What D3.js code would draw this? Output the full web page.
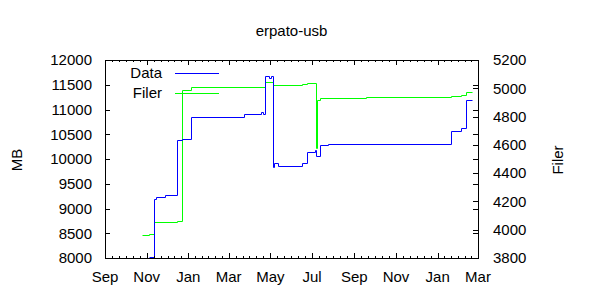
<!DOCTYPE html>
<html>
<head>
<meta charset="utf-8">
<script src="https://cdn.jsdelivr.net/npm/d3@7"></script>
<style>
body { margin: 0; background: #fff; }
text { font-family: "Liberation Sans", Arial, sans-serif; font-size: 15px; fill: #000; }
</style>
</head>
<body>
<svg id="chart" width="600" height="300"></svg>
<script>
// values
var dataDates = ["2008-11-05","2008-11-11","2008-11-14","2008-11-28","2008-12-16","2008-12-22","2009-01-05","2009-03-23","2009-04-17","2009-04-20","2009-04-23","2009-04-29","2009-05-02","2009-05-05","2009-05-07","2009-05-12","2009-06-16","2009-06-23","2009-07-06","2009-07-07","2009-07-13","2009-07-24","2010-01-21","2010-02-04","2010-02-12","2010-02-20"];
var dataMB = [8026,9186,9226,9266,10384,10404,10842,10909,10943,10909,11676,11630,11676,9844,9913,9858,9913,10141,10182,10060,10276,10303,10565,10620,11192,11192];
var filerDates = ["2008-10-25","2008-11-05","2008-11-11","2008-12-16","2008-12-22","2009-01-05","2009-04-23","2009-05-05","2009-06-16","2009-06-23","2009-07-07T00:00Z","2009-07-07T18:00Z","2009-07-13","2009-09-18","2010-01-21","2010-02-04","2010-02-12","2010-02-20"];
var filerCount = [3960,3970,4055,4059,4986,5007,5042,5021,5028,5035,4576,4919,4929,4936,4945,4952,4971,4971];
var mbTicks = [8000,8500,9000,9500,10000,10500,11000,11500,12000];
var filerTicks = [3800,4000,4200,4400,4600,4800,5000,5200];
var xRange = ["2008-09-01","2010-03-01"];

function drawChart() {
 var pl = 105, pr = 478, pt = 60, pb = 258;
 var svg = d3.select("#chart");

 var x = d3.scaleUtc().domain(xRange.map(d3.isoParse)).range([pl, pr]);
 var y = d3.scaleLinear().domain([8000, 12000]).range([pb, pt]);
 var y2 = d3.scaleLinear().domain([3800, 5200]).range([pb, pt]);

 var dataPts = dataDates.map(function(d, i) { return [d3.isoParse(d), dataMB[i]]; });
 var filerPts = filerDates.map(function(d, i) { return [d3.isoParse(d), filerCount[i]]; });

 // series first, frame on top
 svg.append("path").datum(filerPts).attr("fill", "none").attr("stroke", "#00ff00").attr("stroke-width", 1)
  .attr("d", d3.line().curve(d3.curveStepAfter).x(function(d) { return Math.round(x(d[0])) + 0.5; }).y(function(d) { return Math.round(y2(d[1])) + 0.5; }));
 svg.append("path").datum(dataPts).attr("fill", "none").attr("stroke", "#0000ff").attr("stroke-width", 1)
  .attr("d", d3.line().curve(d3.curveStepAfter).x(function(d) { return Math.round(x(d[0])) + 0.5; }).y(function(d) { return Math.round(y(d[1])) + 0.5; }));

 var g = svg.append("g").attr("stroke", "#000").attr("stroke-width", 1);
 g.append("rect").attr("x", pl + 0.5).attr("y", pt + 0.5).attr("width", pr - pl).attr("height", pb - pt).attr("fill", "none");

 // x ticks: major every two months, 6 minor steps between
 var majors = d3.utcMonth.every(2).range(x.domain()[0], d3.utcDay.offset(x.domain()[1], 1));
 majors.forEach(function(m, i) {
  var px = Math.round(x(m)) + 0.5;
  g.append("line").attr("x1", px).attr("x2", px).attr("y1", pb).attr("y2", pb - 5);
  g.append("line").attr("x1", px).attr("x2", px).attr("y1", pt).attr("y2", pt + 5);
  svg.append("text").attr("x", x(m)).attr("y", 282).attr("text-anchor", "middle").text(d3.utcFormat("%b")(m));
  if (i < majors.length - 1) {
   var a = x(m), b = x(majors[i + 1]);
   for (var k = 1; k < 6; k++) {
    var mx = Math.round(a + (b - a) * k / 6) + 0.5;
    g.append("line").attr("x1", mx).attr("x2", mx).attr("y1", pb).attr("y2", pb - 2);
    g.append("line").attr("x1", mx).attr("x2", mx).attr("y1", pt).attr("y2", pt + 2);
   }
  }
 });

 mbTicks.forEach(function(t) {
  var py = Math.round(y(t)) + 0.5;
  g.append("line").attr("x1", pl).attr("x2", pl + 5).attr("y1", py).attr("y2", py);
  g.append("line").attr("x1", pr).attr("x2", pr - 5).attr("y1", py).attr("y2", py);
  svg.append("text").attr("x", 92).attr("y", y(t)).attr("dy", "0.35em").attr("text-anchor", "end").text(t);
 });
 filerTicks.forEach(function(t) {
  var py = Math.round(y2(t)) + 0.5;
  g.append("line").attr("x1", pr).attr("x2", pr - 5).attr("y1", py).attr("y2", py);
  svg.append("text").attr("x", 493).attr("y", y2(t)).attr("dy", "0.35em").attr("text-anchor", "start").text(t);
 });

 svg.append("text").attr("x", (pl + pr) / 2).attr("y", 36).attr("text-anchor", "middle").text("erpato-usb");
 svg.append("text").attr("transform", "translate(22,160) rotate(-90)").attr("text-anchor", "middle").text("MB");
 svg.append("text").attr("transform", "translate(563,160) rotate(-90)").attr("text-anchor", "middle").text("Filer");

 // legend
 var legend = [["Data", "#0000ff", 73], ["Filer", "#00ff00", 93]];
 legend.forEach(function(l) {
  svg.append("text").attr("x", 162).attr("y", l[2]).attr("dy", "0.35em").attr("text-anchor", "end").text(l[0]);
  svg.append("line").attr("x1", 175).attr("x2", 219).attr("y1", l[2] + 0.5).attr("y2", l[2] + 0.5).attr("stroke", l[1]).attr("stroke-width", 1);
 });
}
drawChart();
</script>
</body>
</html>
